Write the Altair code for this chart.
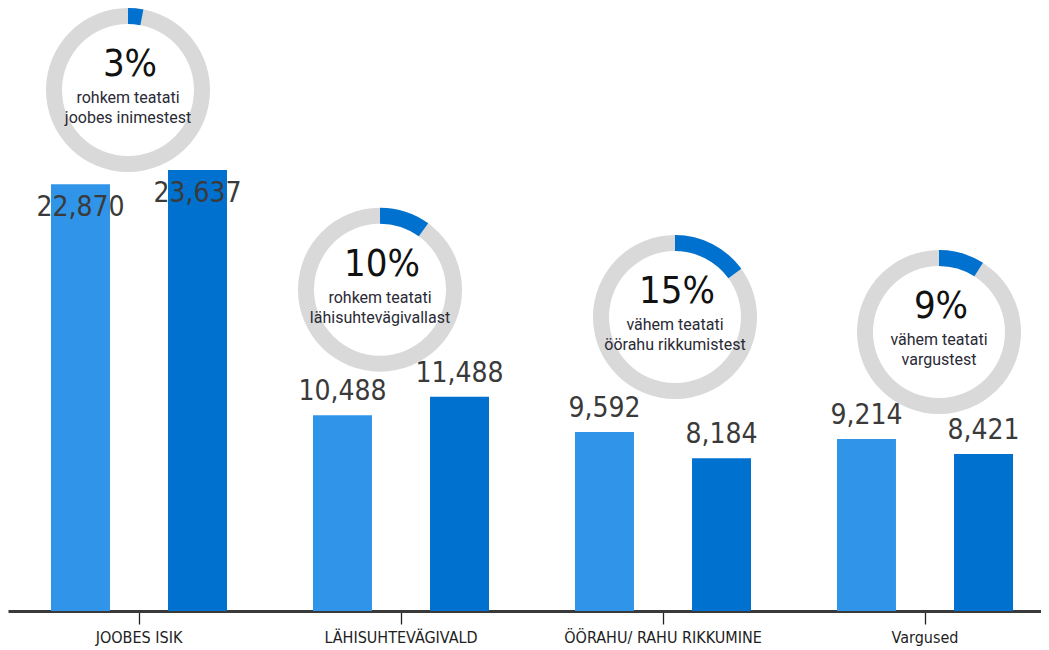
import math
import altair as alt
import pandas as pd

# ---- data ----
categories = ["JOOBES ISIK", "LÄHISUHTEVÄGIVALD", "ÖÖRAHU/ RAHU RIKKUMINE", "Vargused"]
series_names = ["Eelmine periood", "Viimane periood"]
values_prev = [22870, 10488, 9592, 9214]
values_curr = [23637, 11488, 8184, 8421]
change_pct = [3, 10, 15, 9]
change_text = [
    "rohkem teatati\njoobes inimestest",
    "rohkem teatati\nlähisuhtevägivallast",
    "vähem teatati\nöörahu rikkumistest",
    "vähem teatati\nvargustest",
]

# ---- layout / style ----
LIGHT = "#3094E8"
DARK = "#0071CE"
RING_GREY = "#D9D9D9"
NARROW = "DejaVu Sans Condensed, Liberation Sans Narrow, sans-serif"
# ring placement relative to group centre / taller bar top (dx, dy) in px
ring_shift = [(-11, -80), (-21, -107), (12, -115), (14, -107)]

bars = pd.DataFrame(
    [
        {"category": c, "series": s, "value": v}
        for c, vp, vc in zip(categories, values_prev, values_curr)
        for s, v in zip(series_names, (vp, vc))
    ]
)

rings = pd.DataFrame(
    {
        "category": categories,
        "pct": change_pct,
        "pct_label": [f"{p}%" for p in change_pct],
        "desc": change_text,
        "top": [max(a, b) for a, b in zip(values_prev, values_curr)],
    }
)

x_enc = alt.X(
    "category:N",
    sort=categories,
    scale=alt.Scale(range=[0, 1048], paddingInner=0, paddingOuter=0),
    axis=alt.Axis(
        title=None,
        labelAngle=0,
        labelFont=NARROW,
        labelFontSize=16,
        labelLimit=400,
        labelColor="#1e1e1e",
        labelPadding=5,
        domainColor="#3a3a3a",
        domainWidth=3,
        tickColor="#222222",
        tickSize=13,
        tickWidth=1.3,
    ),
)
y_scale = alt.Scale(domain=[0, 32320])
xoff = alt.XOffset(
    "series:N", sort=series_names, scale=alt.Scale(paddingInner=0.496, paddingOuter=0.3675)
)

base = alt.Chart(bars).encode(
    x=x_enc,
    xOffset=xoff,
    y=alt.Y("value:Q", scale=y_scale, axis=None),
)

bar_layer = base.mark_bar().encode(
    color=alt.Color(
        "series:N", sort=series_names, scale=alt.Scale(domain=series_names, range=[LIGHT, DARK]), legend=None
    )
)

label_style = dict(font=NARROW, fontSize=28, color="#3a3a3a", baseline="middle")
labels_first = (
    base.transform_filter(alt.datum.category == categories[0])
    .mark_text(dy=24, **label_style)
    .encode(text=alt.Text("value:Q", format=",d"))
)
labels_rest = (
    base.transform_filter(alt.datum.category != categories[0])
    .mark_text(dy=-23, **label_style)
    .encode(text=alt.Text("value:Q", format=",d"))
)

layers = [bar_layer, labels_first, labels_rest]

for cat, (dx, dy) in zip(categories, ring_shift):
    rb = (
        alt.Chart(rings)
        .transform_filter(alt.datum.category == cat)
        .encode(x=x_enc, y=alt.Y("top:Q", scale=y_scale, axis=None))
    )
    grey = rb.mark_arc(
        theta=0, theta2=2 * math.pi, radius=82, radius2=66, color=RING_GREY, xOffset=dx, yOffset=dy
    )
    blue = rb.mark_arc(radius=82, radius2=66, color=DARK, xOffset=dx, yOffset=dy).encode(
        theta=alt.Theta(
            "pct:Q", stack=False, scale=alt.Scale(domain=[0, 100], range=[0, 2 * math.pi])
        ),
        theta2=alt.value(0),
    )
    pct = rb.mark_text(
        font=NARROW, fontSize=38, color="#111111", baseline="middle", dx=dx + 2, dy=dy - 25
    ).encode(text="pct_label:N")
    desc = rb.mark_text(
        font="Roboto, Arial, sans-serif",
        fontSize=16,
        color="#2a2a35",
        baseline="middle",
        lineBreak="\n",
        lineHeight=20,
        dx=dx,
        dy=dy + 8,
    ).encode(text="desc:N")
    layers += [grey, blue, pct, desc]

chart = (
    alt.layer(*layers)
    .properties(
        width=1033,
        height=603,
        autosize=alt.AutoSizeParams(type="none"),
        padding={"left": 0, "top": 0, "right": 0, "bottom": 36},
    )
    .configure_view(stroke=None)
)

chart.save("out.html", embed_options={"renderer": "svg", "actions": False})
